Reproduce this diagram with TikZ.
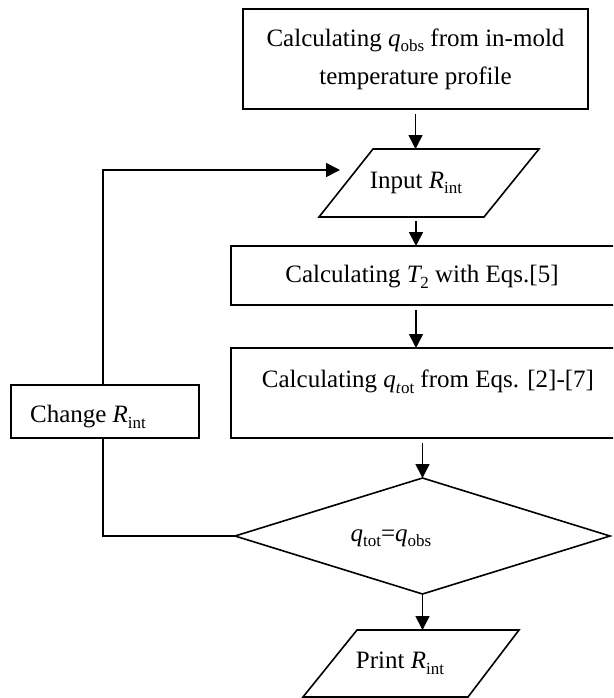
\documentclass[tikz,border=0pt]{standalone}
\usepackage{fontspec}
\setmainfont{Liberation Serif}
\usetikzlibrary{shapes.geometric,arrows.meta}
\newcommand\lowsub[1]{\raisebox{-0.22em}{\fontsize{17}{17}\selectfont #1}}
\begin{document}
\begin{tikzpicture}[x=1pt,y=-1pt,
  every node/.style={font=\fontsize{25}{38}\selectfont, inner sep=0pt, outer sep=0pt},
  ln/.style={line width=1.6pt},
  boxshape/.style={draw, ln, rectangle, anchor=north west},
  arr/.style={ln, -{Triangle[width=14pt,length=14pt]}}]
\clip (0,0) rectangle (613,698);
% top box
\node[draw, ln, rectangle, minimum width=345pt, minimum height=100pt, align=center] (top) at (415.5,59)
  {Calculating \textit{q}\lowsub{obs} from in-mold\\temperature profile};
% input parallelogram
\draw[ln] (373,149) -- (539,149) -- (484,217) -- (319,217) -- cycle;
\node[minimum height=68pt] (input) at (416,183) {Input \textit{R}\lowsub{int}};
% T2 box
\node[boxshape, minimum width=420pt, minimum height=59pt] (t2) at (231,246) {};
\node (t2text) at (422,277) {Calculating \textit{T}\kern-0.08em\lowsub{2} with Eqs.[5]};
% qtot box
\node[boxshape, minimum width=420pt, minimum height=90pt] (qt) at (231,348) {};
\node (qttext) at (428,382) {Calculating \textit{q}\lowsub{\textit{t}ot} from Eqs. [2]-[7]};
% change box
\node[boxshape, minimum width=188pt, minimum height=53pt] (change) at (11,385) {};
\node (changetext) at (88,417) {Change \textit{R}\lowsub{int}};
% decision
\node[draw, ln, diamond, minimum width=375pt, minimum height=116pt] (dec) at (422.5,536) {};
\node (dectext) at (391,538) {\textit{q}\lowsub{tot}=\textit{q}\lowsub{obs}};
% print parallelogram
\draw[ln] (357,630) -- (519,630) -- (468,697) -- (303,697) -- cycle;
\node[minimum height=67pt] (print) at (400,663.5) {Print \textit{R}\lowsub{int}};
% connectors
\coordinate (inarrow) at (340,170);
\draw[arr, shorten <=5pt] (top.south) -- (top.south |- input.north);
\draw[arr] ([yshift=-4pt]input.south) -- (input.south |- t2.north);
\draw[arr, shorten <=5pt] (input.south |- t2.south) -- (input.south |- qt.north);
\draw[arr, shorten <=5pt] (dec.north |- qt.south) -- (dec.north);
\draw[arr] (dec.south) -- (dec.south |- print.north);
\draw[arr] ([xshift=-2pt]change.north) |- (inarrow);
\draw[ln] (dec.west) -| ([xshift=-2pt]change.south);
\end{tikzpicture}
\end{document}
